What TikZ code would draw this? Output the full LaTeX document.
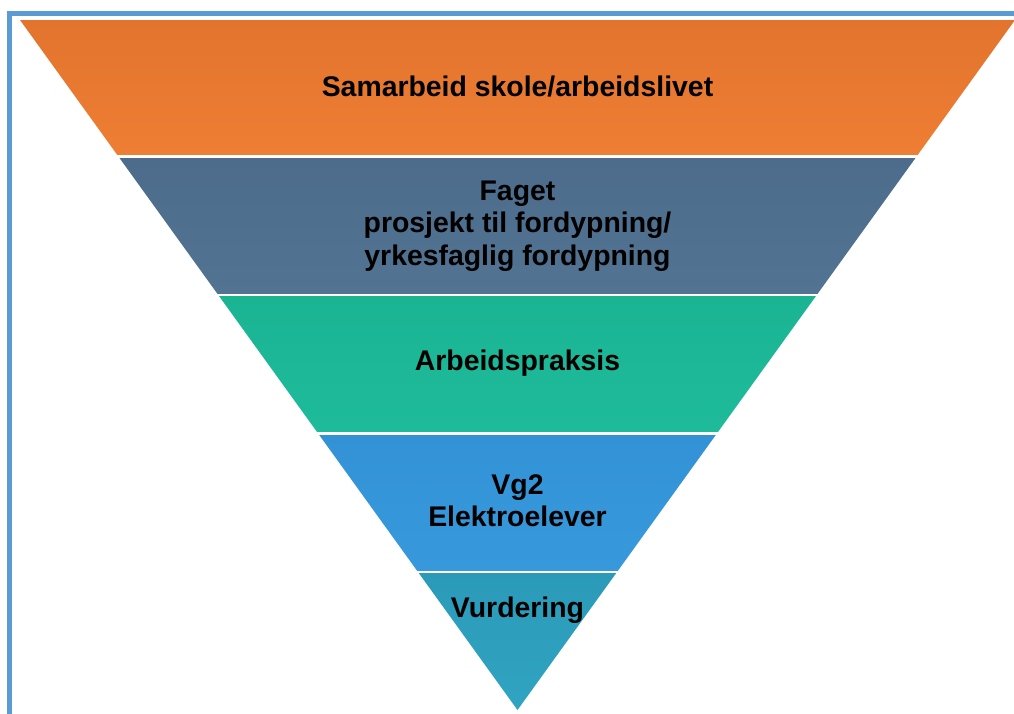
\documentclass[tikz,border=0pt]{standalone}
\usepackage{fontspec}
\setmainfont{Liberation Sans}
\usetikzlibrary{calc}
\begin{document}
\begin{tikzpicture}[x=1pt,y=-1pt,
  label/.style={inner sep=0pt,align=center,
    font=\fontsize{28.4}{32.5}\selectfont\bfseries,text=black},
  gap/.style={draw=white,line width=2.2pt}]
\useasboundingbox (0,0) rectangle (1014,713);
% outer frame
\draw[draw={rgb,255:red,91;green,155;blue,213},line width=5pt]
  (9.8,725) -- (9.8,13) -- (1030,13);
% funnel corners
\coordinate (TL) at (20,20);
\coordinate (TR) at (1015,20);
\coordinate (A) at (517.5,710);
% band boundaries along the funnel sides
\foreach \n/\t in {1/0.19783,2/0.39855,3/0.59928,4/0.8}{
  \coordinate (L\n) at ($(TL)!\t!(A)$);
  \coordinate (R\n) at ($(TR)!\t!(A)$);
}
\definecolor{c1a}{HTML}{E3742E}\definecolor{c1b}{HTML}{EE7E33}
\definecolor{c2a}{HTML}{4D6C8C}\definecolor{c2b}{HTML}{527391}
\definecolor{c3a}{HTML}{1AB493}\definecolor{c3b}{HTML}{1EBB9A}
\definecolor{c4a}{HTML}{3292D5}\definecolor{c4b}{HTML}{3799DC}
\definecolor{c5a}{HTML}{2B9AB9}\definecolor{c5b}{HTML}{30A4C1}
\shade[top color=c1a,bottom color=c1b] (TL) -- (TR) -- (R1) -- (L1) -- cycle;
\shade[top color=c2a,bottom color=c2b] (L1) -- (R1) -- (R2) -- (L2) -- cycle;
\shade[top color=c3a,bottom color=c3b] (L2) -- (R2) -- (R3) -- (L3) -- cycle;
\shade[top color=c4a,bottom color=c4b] (L3) -- (R3) -- (R4) -- (L4) -- cycle;
\shade[top color=c5a,bottom color=c5b] (L4) -- (R4) -- (A) -- cycle;
% white separators between the bands
\foreach \n in {1,...,4}{
  \draw[gap] ($(L\n)+(-3,0)$) -- ($(R\n)+(3,0)$);
}
% texts
\node[label] (t1) at (517.5,86) {Samarbeid skole/arbeidslivet};
\node[label] (t2) at (517.5,226) {Faget\\prosjekt til fordypning/\\yrkesfaglig fordypning};
\node[label] (t3) at (517.5,363.5) {Arbeidspraksis};
\node[label] (t4) at (517.5,500.5) {Vg2\\Elektroelever};
\node[label] (t5) at (517.5,610) {Vurdering};
\end{tikzpicture}
\end{document}
